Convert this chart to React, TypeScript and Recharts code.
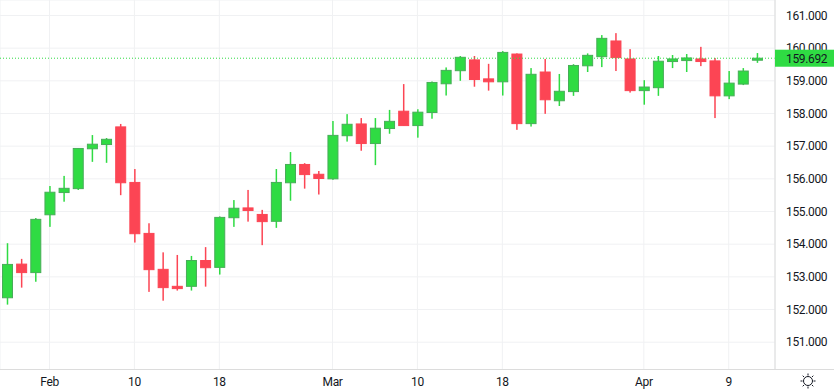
import React from 'react';
import { Bar, CartesianGrid, ComposedChart, ReferenceLine, XAxis, YAxis } from 'recharts';

const DATES = [
  'Jan 29', 'Jan 30', 'Jan 31', 'Feb 1', 'Feb 2', 'Feb 3', 'Feb 5', 'Feb 6', 'Feb 7', 'Feb 10',
  'Feb 12', 'Feb 13', 'Feb 14', 'Feb 15', 'Feb 16', 'Feb 18', 'Feb 19', 'Feb 20', 'Feb 21', 'Feb 22',
  'Feb 23', 'Feb 26', 'Feb 27', 'Mar 1', 'Mar 4', 'Mar 5', 'Mar 6', 'Mar 7', 'Mar 8', 'Mar 10',
  'Mar 11', 'Mar 12', 'Mar 13', 'Mar 14', 'Mar 15', 'Mar 18', 'Mar 19', 'Mar 20', 'Mar 21', 'Mar 22',
  'Mar 25', 'Mar 26', 'Mar 27', 'Mar 28', 'Mar 29', 'Apr 1', 'Apr 2', 'Apr 3', 'Apr 4', 'Apr 5',
  'Apr 8', 'Apr 9', 'Apr 10', 'Apr 11',
];
const OPENS = [
  152.36, 153.39, 153.13, 154.9, 155.58, 155.7, 156.92, 157.05, 157.59, 155.89,
  154.33, 153.23, 152.71, 152.71, 153.5, 153.29, 154.81, 155.11, 154.91, 154.7,
  155.88, 156.44, 156.14, 156.0, 157.32, 157.68, 157.08, 157.54, 158.07, 157.63,
  158.03, 158.91, 159.31, 159.64, 159.06, 158.97, 159.82, 157.69, 159.27, 158.39,
  158.67, 159.46, 159.74, 160.22, 159.67, 158.7, 158.79, 159.59, 159.62, 159.67,
  159.61, 158.54, 158.9, 159.66,
];
const HIGHS = [
  154.03, 153.55, 154.8, 155.78, 156.09, 156.93, 157.34, 157.25, 157.68, 156.3,
  154.64, 153.75, 153.67, 153.64, 153.91, 154.85, 155.35, 155.66, 155.05, 156.3,
  156.82, 156.48, 156.24, 157.77, 157.98, 157.86, 157.86, 158.11, 158.9, 158.13,
  158.98, 159.41, 159.76, 159.76, 159.52, 159.91, 159.84, 159.39, 159.67, 159.21,
  159.51, 159.84, 160.4, 160.46, 159.97, 159.02, 159.76, 159.79, 159.82, 160.04,
  159.7, 159.3, 159.39, 159.85,
];
const LOWS = [
  152.15, 152.67, 152.85, 154.53, 155.3, 155.66, 156.52, 156.49, 155.5, 154.05,
  152.54, 152.27, 152.58, 152.58, 152.7, 153.07, 154.53, 154.69, 153.97, 154.5,
  155.33, 155.7, 155.52, 155.97, 157.14, 156.86, 156.42, 157.38, 157.63, 157.26,
  157.84, 158.55, 159.0, 158.82, 158.7, 158.55, 157.5, 157.6, 157.99, 158.23,
  158.54, 159.27, 159.42, 159.3, 158.64, 158.27, 158.54, 159.39, 159.27, 159.45,
  157.86, 158.44, 158.87, 159.55,
];
const CLOSES = [
  153.38, 153.13, 154.76, 155.59, 155.71, 156.93, 157.06, 157.21, 155.88, 154.32,
  153.22, 152.67, 152.64, 153.5, 153.28, 154.82, 155.1, 155.03, 154.69, 155.89,
  156.44, 156.13, 156.01, 157.33, 157.67, 157.08, 157.55, 157.76, 157.63, 158.04,
  158.95, 159.32, 159.72, 159.04, 158.97, 159.87, 157.69, 159.2, 158.42, 158.68,
  159.47, 159.78, 160.3, 159.71, 158.7, 158.81, 159.6, 159.67, 159.7, 159.59,
  158.54, 158.93, 159.3, 159.692,
];

const TICK_DATES = ['Feb 1', 'Feb 10', 'Feb 18', 'Mar 1', 'Mar 10', 'Mar 18', 'Apr 1', 'Apr 9'];
const TICK_LABELS = ['Feb', '10', '18', 'Mar', '10', '18', 'Apr', '9'];
const PRICE_TICKS = [151, 152, 153, 154, 155, 156, 157, 158, 159, 160, 161];
const LAST_PRICE = 159.692;
const PRICE_DOMAIN = [150.164, 161.474];

const GREEN = '#2fdb43';
const GREEN_EDGE = '#47ad58';
const RED = '#fc4554';
const FONT = 'Roboto, sans-serif';

const rows = DATES.map((date, i) => ({
  date,
  open: OPENS[i],
  close: CLOSES[i],
  high: HIGHS[i],
  low: LOWS[i],
  range: [LOWS[i], HIGHS[i]],
}));

// the bar covers low..high, the body is worked out from that same pixel span
const Candle = (props: any) => {
  const { x, y, width, height, payload } = props;
  const { open, close, high, low } = payload;
  const perUnit = height / (high - low);
  const up = close >= open;
  const top = y + (high - Math.max(open, close)) * perUnit;
  const bodyH = Math.max(Math.abs(close - open) * perUnit, 2);
  const cx = x + width / 2;
  return (
    <g>
      <rect x={cx - 0.75} y={y} width={1.5} height={height} fill={up ? GREEN : RED} />
      <rect
        x={x + 0.5}
        y={top}
        width={width - 1}
        height={bodyH}
        fill={up ? GREEN : RED}
        stroke={up ? GREEN_EDGE : RED}
        strokeWidth={1}
      />
    </g>
  );
};

// drawn as the tick of a second price axis so it sits over the 160.000 label
const PriceTag = (props: any) => {
  const { y } = props;
  return (
    <g>
      <rect x={775} y={y - 8.5} width={59} height={17} fill={GREEN} />
      <text x={786} y={y + 4.5} fontFamily={FONT} fontSize={12} letterSpacing={-0.35} fill="#131722">
        {LAST_PRICE.toFixed(3)}
      </text>
    </g>
  );
};

const SunIcon = () => (
  <svg width={16} height={16} viewBox="0 0 16 16" style={{ position: 'absolute', left: 799.5, top: 372.5 }}>
    <circle cx={8} cy={8} r={4.5} fill="none" stroke="#131722" strokeWidth={1} />
    <path
      d="M8 0.5v2M8 13.5v2M0.5 8h2M13.5 8h2M2.7 2.7l1.4 1.4M11.9 11.9l1.4 1.4M2.7 13.3l1.4-1.4M11.9 4.1l1.4-1.4"
      stroke="#131722"
      strokeWidth={1}
    />
  </svg>
);

export default function App() {
  return (
    <div style={{ position: 'absolute', left: 0, top: 0, width: 834, height: 390, background: '#fff', overflow: 'hidden' }}>
      <ComposedChart width={834} height={390} data={rows} margin={{ top: 0, right: 0, bottom: 0, left: 0 }}>
        <CartesianGrid stroke="#f0f1f3" strokeWidth={1} />
        <XAxis
          dataKey="date"
          ticks={TICK_DATES}
          interval={0}
          height={20.5}
          padding={{ left: 0, right: 10.9 }}
          tickLine={false}
          axisLine={{ stroke: '#dcdcdc' }}
          tickMargin={2}
          tick={{ fontFamily: FONT, fontSize: 12, letterSpacing: -0.35, fill: '#131722' }}
          tickFormatter={(d: string) => TICK_LABELS[TICK_DATES.indexOf(d)]}
        />
        <YAxis
          orientation="right"
          width={58}
          domain={PRICE_DOMAIN}
          allowDataOverflow
          ticks={PRICE_TICKS}
          interval={0}
          tickLine={false}
          axisLine={{ stroke: '#dcdcdc' }}
          tickMargin={5}
          tick={{ fontFamily: FONT, fontSize: 12, letterSpacing: -0.35, fill: '#131722' }}
          tickFormatter={(v: number) => v.toFixed(3)}
        />
        <YAxis
          yAxisId="tag"
          orientation="right"
          width={1}
          domain={PRICE_DOMAIN}
          allowDataOverflow
          ticks={[LAST_PRICE]}
          interval={0}
          tickLine={false}
          axisLine={false}
          tick={<PriceTag />}
        />
        <ReferenceLine y={LAST_PRICE} stroke={GREEN} strokeDasharray="1 2" />
        <Bar dataKey="range" barSize={11} shape={<Candle />} isAnimationActive={false} />
      </ComposedChart>
      <div style={{ position: 'absolute', left: 775, top: 369, width: 59, height: 1, background: '#dcdcdc' }} />
      <SunIcon />
    </div>
  );
}
